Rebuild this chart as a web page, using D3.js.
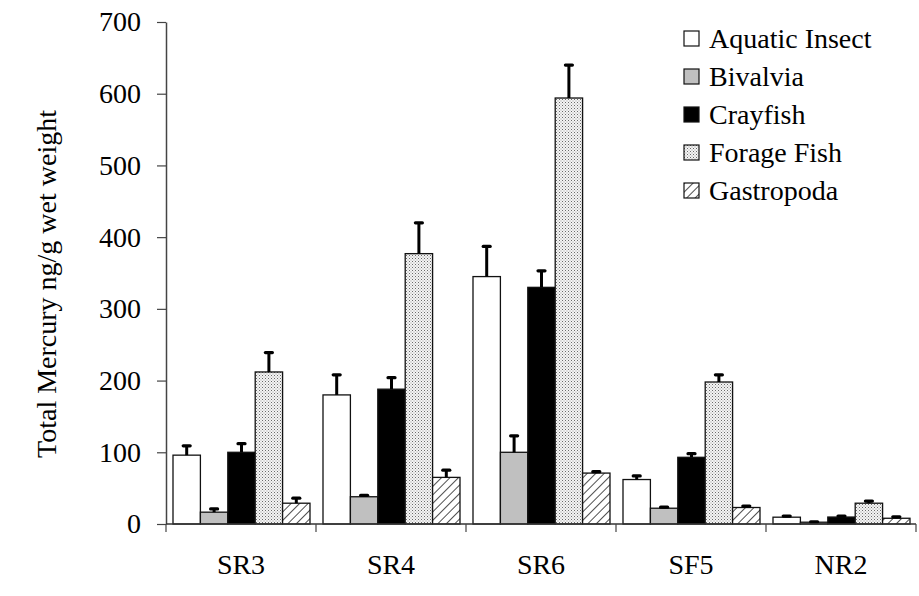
<!DOCTYPE html>
<html>
<head>
<meta charset="utf-8">
<script src="https://cdn.jsdelivr.net/npm/d3@7/dist/d3.min.js"></script>
<style>
  html, body { margin: 0; padding: 0; background: #fff; }
  svg { display: block; }
</style>
</head>
<body>
<svg id="chart" width="919" height="596" font-family="Liberation Serif"></svg>
<script>
// Sites sampled
const sites = ["SR3", "SR4", "SR6", "SF5", "NR2"];
// Taxa groups
const taxa = ["Aquatic Insect", "Bivalvia", "Crayfish", "Forage Fish", "Gastropoda"];

// Mean total mercury (ng/g wet weight), one array per taxon, ordered by site
const aquaticInsect = [96, 180, 345, 62, 9.5];
const bivalvia      = [16.5, 38, 100, 22, 2.5];
const crayfish      = [100, 188, 330, 93, 9.7];
const forageFish    = [212, 377, 594, 198, 29];
const gastropoda    = [29, 65, 71, 23, 8];

// Upper error bar (mean + SE)
const aquaticInsectErr = [109, 208, 387, 67, 11];
const bivalviaErr      = [21, 40, 123, 23.5, 3];
const crayfishErr      = [112, 204, 353, 98, 11];
const forageFishErr    = [239, 420, 640, 208, 32];
const gastropodaErr    = [36, 75, 73, 25, 10];

const yTicks = [0, 100, 200, 300, 400, 500, 600, 700];

const values = [aquaticInsect, bivalvia, crayfish, forageFish, gastropoda];
const errors = [aquaticInsectErr, bivalviaErr, crayfishErr, forageFishErr, gastropodaErr];

const rows = [];
sites.forEach((s, i) => taxa.forEach((t, j) => {
  rows.push({ site: s, taxon: t, value: values[j][i], upper: errors[j][i] });
}));

const FONT = "Liberation Serif";
const FS = 28;

const svg = d3.select("#chart");
const defs = svg.append("defs");

// Stipple fill for forage fish
const dots = defs.append("pattern").attr("id", "dots")
  .attr("patternUnits", "userSpaceOnUse").attr("width", 3).attr("height", 3);
dots.append("rect").attr("width", 3).attr("height", 3).attr("fill", "#f4f4f4");
dots.append("rect").attr("x", 0).attr("y", 0).attr("width", 1).attr("height", 1).attr("fill", "#6a6a6a");
dots.append("rect").attr("x", 1.5).attr("y", 1.5).attr("width", 1).attr("height", 1).attr("fill", "#9a9a9a");

// Diagonal hatch for gastropods
const hatch = defs.append("pattern").attr("id", "hatch")
  .attr("patternUnits", "userSpaceOnUse").attr("width", 6).attr("height", 6)
  .attr("patternTransform", "rotate(45)");
hatch.append("rect").attr("width", 6).attr("height", 6).attr("fill", "#fff");
hatch.append("line").attr("x1", 0).attr("y1", 0).attr("x2", 0).attr("y2", 6)
  .attr("stroke", "#222").attr("stroke-width", 1.6);

const fills = d3.scaleOrdinal()
  .domain(taxa)
  .range(["#ffffff", "#c0c0c0", "#000000", "url(#dots)", "url(#hatch)"]);

const x0 = d3.scaleBand().domain(sites).range([166, 916]).paddingInner(0).paddingOuter(0);
const x1 = d3.scaleBand().domain(taxa).range([7, 144]).padding(0);
const y = d3.scaleLinear().domain([0, 700]).range([524, 22]);

// Bars
const groups = svg.append("g").selectAll("g")
  .data(sites).join("g")
  .attr("transform", d => `translate(${x0(d)},0)`);

groups.selectAll("rect")
  .data(s => rows.filter(r => r.site === s))
  .join("rect")
  .attr("x", d => x1(d.taxon))
  .attr("y", d => y(d.value))
  .attr("width", x1.bandwidth())
  .attr("height", d => y(0) - y(d.value))
  .attr("fill", d => fills(d.taxon))
  .attr("stroke", "#111")
  .attr("stroke-width", 1.3);

// Error bars (upper only)
const eb = groups.selectAll("g.err")
  .data(s => rows.filter(r => r.site === s))
  .join("g").attr("class", "err");
eb.append("line")
  .attr("x1", d => x1(d.taxon) + x1.bandwidth() / 2)
  .attr("x2", d => x1(d.taxon) + x1.bandwidth() / 2)
  .attr("y1", d => y(d.value))
  .attr("y2", d => y(d.upper))
  .attr("stroke", "#000").attr("stroke-width", 3);
eb.append("line")
  .attr("x1", d => x1(d.taxon) + x1.bandwidth() / 2 - 3.5)
  .attr("x2", d => x1(d.taxon) + x1.bandwidth() / 2 + 3.5)
  .attr("y1", d => y(d.upper))
  .attr("y2", d => y(d.upper))
  .attr("stroke", "#000").attr("stroke-width", 3.2).attr("stroke-linecap", "round");

// Y axis
const yAxis = svg.append("g").attr("transform", "translate(166,0)")
  .call(d3.axisLeft(y).tickValues(yTicks).tickSize(9).tickPadding(16).tickSizeOuter(0));
yAxis.attr("font-family", FONT).attr("font-size", FS);
yAxis.select(".domain").attr("stroke", "#444").attr("stroke-width", 1.5);
yAxis.selectAll(".tick line").attr("stroke", "#444").attr("stroke-width", 1.2);
yAxis.selectAll(".tick text")
  .attr("font-family", FONT).attr("font-size", FS).attr("fill", "#000");

// X axis: baseline with ticks at category boundaries
const xAxis = svg.append("g").attr("transform", "translate(0,524)");
xAxis.append("line").attr("x1", 166).attr("x2", 916).attr("y1", 0).attr("y2", 0)
  .attr("stroke", "#333").attr("stroke-width", 1.6);
const bounds = sites.map(s => x0(s)).concat([x0(sites[sites.length - 1]) + x0.bandwidth()]);
xAxis.selectAll("line.tk").data(bounds).join("line").attr("class", "tk")
  .attr("x1", d => d).attr("x2", d => d).attr("y1", 0).attr("y2", 8)
  .attr("stroke", "#444").attr("stroke-width", 1.2);
xAxis.selectAll("text").data(sites).join("text")
  .attr("x", d => x0(d) + x0.bandwidth() / 2)
  .attr("y", 50)
  .attr("text-anchor", "middle")
  .attr("font-family", FONT).attr("font-size", FS)
  .text(d => d);

// Y axis title
svg.append("text")
  .attr("transform", "translate(56,284) rotate(-90)")
  .attr("text-anchor", "middle")
  .attr("font-family", FONT).attr("font-size", FS)
  .text("Total Mercury ng/g wet weight");

// Legend
const legend = svg.append("g").attr("transform", "translate(684,31)");
const li = legend.selectAll("g").data(taxa).join("g")
  .attr("transform", (d, i) => `translate(0,${i * 38})`);
li.append("rect").attr("width", 15).attr("height", 15)
  .attr("fill", d => fills(d)).attr("stroke", "#111").attr("stroke-width", 1.2);
li.append("text").attr("x", 25).attr("y", 17)
  .attr("font-family", FONT).attr("font-size", FS).text(d => d);
</script>
</body>
</html>
